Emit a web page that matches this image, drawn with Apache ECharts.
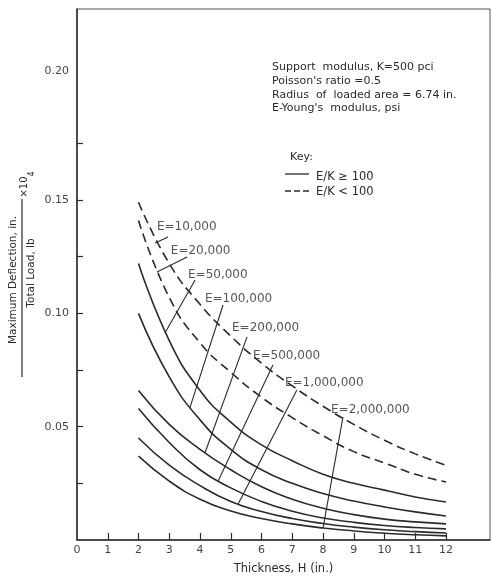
<!DOCTYPE html>
<html>
<head>
<meta charset="utf-8">
<script src="https://cdn.jsdelivr.net/npm/echarts@6/dist/echarts.min.js"></script>
<style>
html,body{margin:0;padding:0;background:#fff;}
#chart{width:491px;height:577px;}
</style>
</head>
<body>
<div id="chart"></div>
<script>
// ---- data ----
const thickness = [2, 3, 4, 5, 6, 7, 8, 9, 10, 11, 12];
const curveLabels = ['E=10,000', 'E=20,000', 'E=50,000', 'E=100,000', 'E=200,000', 'E=500,000', 'E=1,000,000', 'E=2,000,000'];
const e10000   = [0.149, 0.122, 0.104, 0.090, 0.078, 0.068, 0.059, 0.051, 0.044, 0.038, 0.033];
const e20000   = [0.141, 0.107, 0.087, 0.074, 0.063, 0.054, 0.046, 0.039, 0.034, 0.029, 0.0256];
const e50000   = [0.122, 0.088, 0.066, 0.052, 0.042, 0.035, 0.029, 0.025, 0.022, 0.019, 0.0168];
const e100000  = [0.100, 0.072, 0.053, 0.040, 0.031, 0.025, 0.0205, 0.0172, 0.0146, 0.0124, 0.0106];
const e200000  = [0.066, 0.051, 0.040, 0.031, 0.0235, 0.018, 0.014, 0.0112, 0.0092, 0.0080, 0.0071];
const e500000  = [0.058, 0.043, 0.031, 0.023, 0.017, 0.0127, 0.0097, 0.0078, 0.0064, 0.0055, 0.0049];
const e1000000 = [0.045, 0.033, 0.024, 0.017, 0.0126, 0.0095, 0.0073, 0.0057, 0.0045, 0.0037, 0.0031];
const e2000000 = [0.037, 0.026, 0.018, 0.0128, 0.0095, 0.0071, 0.0053, 0.0040, 0.0030, 0.0023, 0.0018];
const curves = [e10000, e20000, e50000, e100000, e200000, e500000, e1000000, e2000000];
const dashedFlags = [true, true, false, false, false, false, false, false];

// label anchor (left edge) and arrow start/end in data units
const labelPos = [[2.60,0.1381],[3.05,0.1275],[3.61,0.1169],[4.16,0.1064],[5.04,0.0936],[5.72,0.0812],[6.76,0.0693],[8.26,0.0574]];
const arrowFrom = [[2.96,0.1337],[3.58,0.1249],[3.84,0.1147],[4.75,0.1037],[5.53,0.0896],[6.37,0.0772],[7.15,0.0662],[8.65,0.0543]];
const arrowTo   = [[2.54,0.1311],[2.60,0.1183],[2.86,0.0913],[3.67,0.0583],[4.16,0.0384],[4.59,0.0260],[5.24,0.0159],[8.00,0.0052]];

const xTickValues = [1,2,3,4,5,6,7,8,9,10,11,12];
const xLabelValues = [0,1,2,3,4,5,6,7,8,9,10,11,12];
const yTickValues = [0.025,0.05,0.075,0.10,0.125,0.15,0.175];
const yLabelValues = [0.05,0.10,0.15,0.20];

const noteLines = ["Support  modulus, K=500 pci", "Poisson's ratio =0.5", "Radius  of  loaded area = 6.74 in.", "E-Young's  modulus, psi"];
const keyTitle = 'Key:';
const keySolid = 'E/K ≥ 100';
const keyDashed = 'E/K < 100';

const FONT = 'DejaVu Sans';
const INK = '#2b2b2b';
const f = (px) => px + 'px "' + FONT + '"';

const chart = echarts.init(document.getElementById('chart'), null, {renderer: 'canvas'});

const series = curves.map((vals, i) => ({
  type: 'line',
  name: curveLabels[i],
  data: thickness.map((t, j) => [t, vals[j]]),
  smooth: 0.5,
  showSymbol: false,
  symbol: 'none',
  silent: true,
  lineStyle: {color: INK, width: 1.6, type: dashedFlags[i] ? [9, 5] : 'solid'},
  z: 3
}));

series.push({
  type: 'scatter',
  name: 'labels',
  symbolSize: 0,
  silent: true,
  data: curveLabels.map((n, i) => ({name: n, value: labelPos[i]})),
  label: {show: true, position: 'right', distance: 0, formatter: '{b}', color: INK, fontFamily: FONT, fontSize: 12},
  markLine: {
    silent: true,
    symbol: ['none', 'arrow'],
    symbolSize: [0, 8],
    label: {show: false},
    lineStyle: {color: INK, width: 1.1, type: 'solid'},
    data: arrowFrom.map((p, i) => [{coord: p}, {coord: arrowTo[i]}])
  },
  z: 4
});

chart.setOption({
  animation: false,
  backgroundColor: '#ffffff',
  legend: {show: false},
  grid: {left: 77, top: 9, right: 1, bottom: 37, show: true, borderColor: '#555', borderWidth: 1, containLabel: false, outerBoundsMode: 'none'},
  xAxis: {
    type: 'value', min: 0, max: 13.43,
    name: 'Thickness, H (in.)', nameLocation: 'middle', nameGap: 23,
    nameTextStyle: {color: INK, fontFamily: FONT, fontSize: 11.5},
    axisLine: {show: true, lineStyle: {color: INK, width: 1.5}},
    axisTick: {show: true, inside: true, length: 7, customValues: xTickValues, lineStyle: {color: INK, width: 1.2}},
    axisLabel: {show: true, customValues: xLabelValues, margin: 5, color: '#444', fontFamily: FONT, fontSize: 11},
    splitLine: {show: false}
  },
  yAxis: {
    type: 'value', min: 0, max: 0.2343,
    axisLine: {show: true, lineStyle: {color: INK, width: 1.5}},
    axisTick: {show: true, inside: true, length: 6, customValues: yTickValues, lineStyle: {color: INK, width: 1.2}},
    axisLabel: {
      show: true, customValues: yLabelValues, margin: 8, color: '#444', fontFamily: FONT, fontSize: 11,
      formatter: v => Math.abs(v - 0.20) < 1e-9 ? '{up|0.20}' : v.toFixed(2),
      rich: {up: {padding: [0, 0, 32, 0], color: '#444', fontFamily: FONT, fontSize: 11}}
    },
    splitLine: {show: false}
  },
  series: series,
  graphic: [
    {type: 'text', x: 13, y: 280, rotation: Math.PI/2, style: {text: 'Maximum Deflection, in.', fill: INK, font: f(10.5), align: 'center', verticalAlign: 'middle'}},
    {type: 'text', x: 31, y: 273, rotation: Math.PI/2, style: {text: 'Total Load, lb', fill: INK, font: f(10.5), align: 'center', verticalAlign: 'middle'}},
    {type: 'line', shape: {x1: 22, y1: 199, x2: 22, y2: 377}, style: {stroke: INK, lineWidth: 1.2}},
    {type: 'text', x: 24, y: 187, rotation: Math.PI/2, style: {text: '×10', fill: INK, font: f(10), align: 'center', verticalAlign: 'middle'}},
    {type: 'text', x: 32, y: 174, rotation: Math.PI/2, style: {text: '4', fill: INK, font: f(8), align: 'center', verticalAlign: 'middle'}},
    {type: 'text', x: 272, y: 67, style: {text: noteLines[0], fill: INK, font: f(11), verticalAlign: 'middle'}},
    {type: 'text', x: 272, y: 81, style: {text: noteLines[1], fill: INK, font: f(11), verticalAlign: 'middle'}},
    {type: 'text', x: 272, y: 95, style: {text: noteLines[2], fill: INK, font: f(11), verticalAlign: 'middle'}},
    {type: 'text', x: 272, y: 108, style: {text: noteLines[3], fill: INK, font: f(11), verticalAlign: 'middle'}},
    {type: 'text', x: 290, y: 157, style: {text: keyTitle, fill: INK, font: f(11), verticalAlign: 'middle'}},
    {type: 'line', shape: {x1: 285, y1: 174, x2: 309, y2: 174}, style: {stroke: INK, lineWidth: 1.3}},
    {type: 'text', x: 316, y: 177, style: {text: keySolid, fill: INK, font: f(11.5), verticalAlign: 'middle'}},
    {type: 'line', shape: {x1: 285, y1: 191, x2: 309, y2: 191}, style: {stroke: INK, lineWidth: 1.3, lineDash: [6, 3]}},
    {type: 'text', x: 316, y: 192, style: {text: keyDashed, fill: INK, font: f(11.5), verticalAlign: 'middle'}}
  ]
});
</script>
</body>
</html>
